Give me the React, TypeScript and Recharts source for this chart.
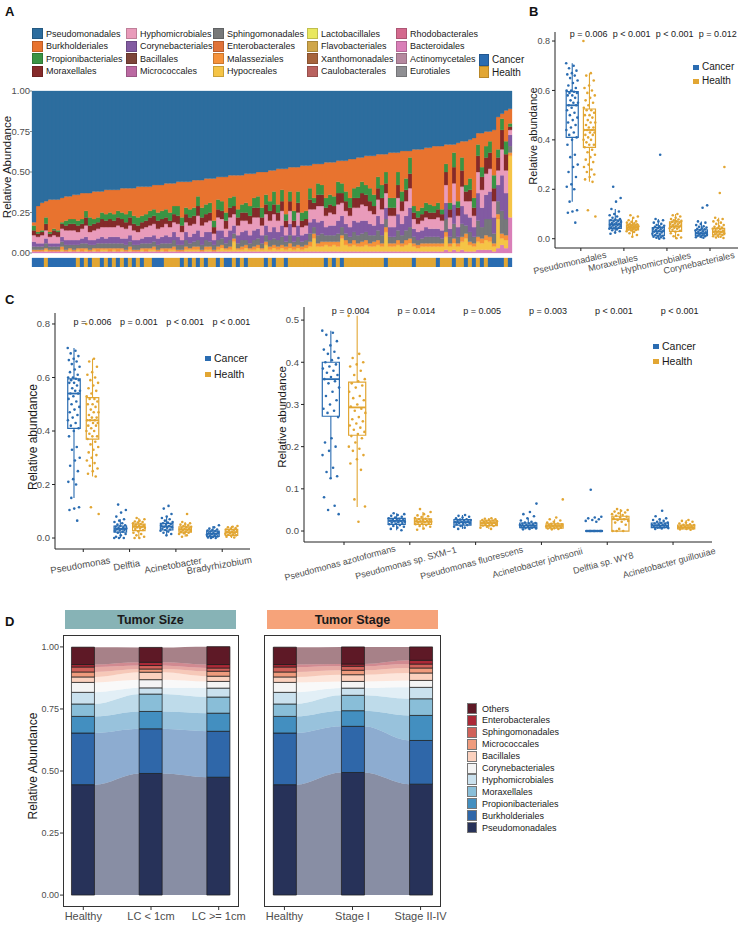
import React from 'react'
import {
  Area,
  AreaChart,
  Bar,
  BarChart,
  Cell,
  ComposedChart,
  ReferenceArea,
  ReferenceDot,
  ReferenceLine,
  Scatter,
  XAxis,
  YAxis,
} from 'recharts'

const FONT = '"Liberation Sans", Arial, Helvetica, sans-serif'
const TXT = '#1a1a1a'
const TICK = '#4d4d4d'
const CANCER = '#2a6cb1'
const HEALTH = '#e2a633'
const groupNames = ['Cancer', 'Health']
const groupColors = [CANCER, HEALTH]

// ---------- Panel A ----------
const orderNames = [
  'Pseudomonadales', 'Burkholderiales', 'Propionibacteriales', 'Moraxellales',
  'Hyphomicrobiales', 'Corynebacteriales', 'Bacillales', 'Micrococcales',
  'Sphingomonadales', 'Enterobacterales', 'Malasseziales', 'Hypocreales',
  'Lactobacillales', 'Flavobacteriales', 'Xanthomonadales', 'Caulobacterales',
  'Rhodobacterales', 'Bacteroidales', 'Actinomycetales', 'Eurotiales',
]
const orderColors = [
  '#2d6d9e', '#e8732f', '#3a9444', '#852a2a',
  '#e99bbb', '#825ba2', '#7c4439', '#bb69a2',
  '#76787a', '#e0733a', '#f6923a', '#f5c446',
  '#e9e85f', '#cfa64a', '#a6643c', '#b9625f',
  '#d4698e', '#d97fb8', '#b5889f', '#8f8f93',
]

// percent per sample, samples sorted by Pseudomonadales
const pseudomonadales = [
  81, 71, 69, 68, 67, 67, 67, 66, 65, 65,
  64, 64, 63, 63, 63, 62, 62, 62, 61, 61,
  61, 61, 60, 60, 60, 60, 59, 59, 59, 59,
  58, 58, 58, 57, 57, 57, 56, 56, 56, 56,
  55, 55, 55, 54, 54, 54, 53, 53, 53, 52,
  52, 52, 52, 51, 51, 51, 50, 50, 50, 49,
  49, 48, 48, 48, 47, 47, 47, 46, 46, 46,
  45, 45, 45, 44, 44, 44, 43, 43, 43, 42,
  42, 41, 41, 40, 40, 40, 39, 39, 39, 38,
  38, 38, 37, 37, 37, 36, 36, 36, 35, 35,
  34, 34, 34, 33, 33, 33, 32, 31, 31, 30,
  29, 26, 26, 25, 25, 24, 16, 14, 12, 11,
]
const burkholderiales = [
  2, 16, 17, 10, 20, 18, 19, 15, 15, 14,
  15, 16, 16, 11, 15, 17, 16, 13, 15, 14,
  15, 13, 15, 16, 14, 17, 19, 18, 17, 15,
  15, 17, 16, 16, 18, 14, 15, 22, 16, 17,
  17, 10, 17, 16, 15, 26, 14, 15, 22, 14,
  13, 21, 18, 18, 20, 15, 15, 22, 14, 19,
  13, 22, 13, 28, 15, 27, 15, 29, 28, 14,
  21, 12, 13, 22, 20, 21, 13, 14, 19, 24,
  18, 18, 15, 18, 20, 24, 14, 19, 11, 28,
  28, 12, 25, 17, 4, 35, 38, 36, 34, 35,
  37, 35, 39, 12, 36, 5, 36, 10, 27, 24,
  37, 7, 21, 9, 6, 28, 20, 3, 19, 9,
]
const propionibacteriales = [
  3, 1, 1, 4, 1, 1, 1, 1, 3, 3,
  3, 3, 3, 4, 5, 3, 3, 4, 4, 4,
  4, 4, 4, 5, 4, 5, 5, 4, 4, 4,
  4, 5, 5, 5, 5, 5, 6, 5, 4, 5,
  5, 6, 6, 6, 6, 4, 6, 6, 5, 6,
  6, 5, 5, 6, 6, 6, 7, 6, 6, 6,
  8, 5, 7, 4, 6, 6, 7, 5, 5, 7,
  3, 7, 6, 6, 6, 6, 7, 6, 6, 6,
  6, 7, 7, 6, 8, 7, 7, 8, 7, 6,
  6, 8, 6, 7, 10, 4, 4, 4, 5, 5,
  4, 4, 3, 5, 4, 9, 4, 8, 4, 7,
  6, 7, 6, 7, 7, 8, 5, 7, 8, 2,
]
const moraxellales = [
  3, 2, 2, 4, 2, 3, 3, 3, 3, 4,
  4, 4, 3, 5, 4, 4, 4, 5, 4, 5,
  4, 5, 5, 4, 5, 4, 4, 4, 4, 5,
  5, 5, 5, 4, 4, 5, 5, 4, 5, 5,
  5, 6, 5, 5, 5, 4, 5, 5, 5, 6,
  5, 5, 5, 5, 5, 6, 6, 5, 6, 6,
  6, 5, 6, 4, 6, 4, 6, 4, 4, 6,
  4, 7, 7, 5, 5, 5, 7, 6, 6, 5,
  6, 6, 7, 7, 6, 5, 7, 7, 6, 5,
  5, 8, 6, 7, 9, 4, 4, 4, 4, 4,
  4, 5, 4, 8, 5, 10, 5, 10, 6, 7,
  5, 10, 8, 10, 10, 8, 8, 12, 10, 2,
]
const hyphomicrobiales = [
  4, 4, 5, 5, 4, 5, 4, 5, 6, 6,
  6, 5, 6, 7, 5, 6, 6, 6, 7, 6,
  6, 7, 7, 6, 6, 6, 5, 6, 6, 7,
  7, 6, 6, 7, 6, 6, 8, 5, 6, 7,
  6, 9, 7, 6, 7, 4, 8, 7, 5, 8,
  7, 6, 7, 6, 7, 8, 7, 6, 7, 7,
  8, 7, 9, 5, 8, 5, 8, 5, 5, 8,
  6, 10, 9, 7, 8, 7, 10, 8, 8, 7,
  8, 9, 10, 9, 8, 7, 10, 9, 9, 7,
  7, 10, 8, 9, 12, 6, 5, 6, 6, 6,
  6, 7, 6, 11, 7, 13, 7, 12, 8, 10,
  7, 13, 11, 13, 14, 10, 9, 16, 14, 3,
]
const corynebacteriales = [
  3, 2, 2, 3, 2, 2, 2, 3, 3, 3,
  3, 3, 3, 4, 3, 3, 3, 4, 3, 4,
  4, 4, 3, 4, 4, 3, 3, 3, 4, 4,
  4, 4, 4, 5, 4, 5, 5, 3, 5, 4,
  5, 6, 5, 5, 6, 3, 6, 5, 4, 6,
  5, 5, 5, 6, 5, 6, 6, 5, 6, 5,
  7, 5, 7, 4, 7, 4, 7, 4, 4, 7,
  5, 8, 8, 5, 6, 6, 8, 7, 6, 6,
  7, 8, 8, 7, 7, 6, 9, 7, 7, 6,
  6, 10, 7, 9, 12, 5, 5, 5, 6, 5,
  5, 5, 5, 10, 5, 12, 6, 11, 7, 9,
  6, 17, 12, 15, 17, 10, 10, 22, 16, 7,
]
const sphingomonadales = [
  2, 2, 2, 3, 2, 2, 2, 3, 3, 2,
  3, 2, 3, 3, 3, 2, 3, 3, 3, 3,
  3, 3, 3, 3, 3, 3, 3, 3, 3, 3,
  3, 3, 3, 3, 3, 4, 3, 3, 4, 3,
  3, 4, 3, 4, 3, 3, 4, 4, 3, 4,
  3, 3, 4, 3, 3, 4, 4, 3, 4, 4,
  4, 4, 5, 3, 5, 3, 5, 3, 3, 5,
  4, 5, 5, 4, 4, 4, 5, 5, 4, 4,
  5, 5, 5, 5, 5, 4, 6, 5, 5, 4,
  4, 6, 5, 6, 7, 4, 3, 3, 4, 4,
  4, 4, 3, 8, 4, 9, 4, 8, 5, 6,
  4, 10, 7, 10, 11, 6, 8, 14, 10, 4,
]
const malasseziales = [
  1, 1, 1, 1, 1, 1, 1, 2, 1, 1,
  1, 1, 2, 1, 1, 1, 2, 1, 1, 2,
  1, 2, 1, 1, 2, 1, 1, 1, 2, 1,
  2, 1, 1, 2, 1, 2, 1, 1, 2, 1,
  2, 2, 1, 2, 2, 1, 2, 2, 1, 2,
  2, 1, 2, 2, 1, 2, 2, 1, 2, 2,
  2, 2, 2, 2, 3, 2, 2, 2, 2, 3,
  3, 2, 3, 2, 3, 2, 3, 2, 3, 2,
  3, 2, 3, 3, 2, 3, 3, 2, 3, 2,
  2, 3, 2, 3, 3, 2, 2, 2, 2, 2,
  2, 2, 2, 3, 2, 3, 2, 3, 3, 2,
  2, 3, 3, 3, 3, 2, 3, 3, 3, 2,
]
const hypocreales = [
  0, 0, 0, 1, 0, 0, 0, 1, 0, 1,
  0, 1, 0, 1, 0, 1, 0, 1, 1, 0,
  1, 0, 1, 0, 1, 0, 0, 1, 0, 1,
  1, 0, 1, 0, 1, 1, 0, 0, 1, 1,
  1, 1, 0, 1, 1, 0, 1, 2, 1, 1,
  6, 1, 1, 2, 1, 1, 2, 1, 4, 1,
  2, 1, 2, 1, 2, 1, 2, 1, 2, 3,
  8, 3, 3, 4, 3, 4, 3, 8, 4, 3,
  4, 3, 3, 4, 3, 3, 4, 3, 12, 3,
  3, 4, 3, 4, 5, 3, 2, 3, 3, 3,
  3, 3, 3, 8, 3, 4, 3, 5, 8, 4,
  3, 5, 4, 6, 5, 3, 18, 4, 5, 38,
]
const bacteroidales = [
  1, 1, 1, 1, 1, 1, 1, 1, 1, 1,
  1, 1, 1, 1, 1, 1, 1, 1, 1, 1,
  1, 1, 1, 1, 1, 1, 1, 1, 1, 1,
  1, 1, 1, 1, 1, 1, 1, 1, 1, 1,
  1, 1, 1, 1, 1, 1, 1, 1, 1, 1,
  1, 1, 1, 1, 1, 1, 1, 1, 1, 1,
  1, 1, 1, 1, 1, 1, 1, 1, 1, 1,
  1, 1, 1, 1, 1, 1, 1, 1, 1, 1,
  1, 1, 1, 1, 1, 1, 1, 1, 1, 1,
  1, 1, 1, 1, 1, 1, 1, 1, 1, 1,
  1, 1, 1, 2, 1, 2, 1, 2, 1, 1,
  1, 2, 2, 2, 2, 1, 3, 5, 3, 22,
]
// C = Cancer, H = Health
const sampleGroup = (
  'CCCHCCCCCCC' + 'HCHCHH' + 'CHCHCHCHCHC' + 'HHCCCHHHH' + 'CHCHCHC' +
  'HHCHCCHCHC' + 'HHHHCHCHHC' + 'HHHHHHHHH' + 'CHCHC' + 'HHHHHHHHHH' +
  'CHHHHHHCHHHHHCHHHCHH' + 'CHCHCHCCCCHC'
).split('')

const aStack: [string, number[]][] = [
  ['Bacteroidales', bacteroidales],
  ['Hypocreales', hypocreales],
  ['Malasseziales', malasseziales],
  ['Sphingomonadales', sphingomonadales],
  ['Corynebacteriales', corynebacteriales],
  ['Hyphomicrobiales', hyphomicrobiales],
  ['Moraxellales', moraxellales],
  ['Propionibacteriales', propionibacteriales],
  ['Burkholderiales', burkholderiales],
  ['Pseudomonadales', pseudomonadales],
]
const aRows = sampleGroup.map((g, i) => {
  const row: Record<string, number | string> = { id: i, group: g }
  aStack.forEach(([name, vals]) => { row[name] = vals[i] })
  return row
})
const colorOf = (name: string) => orderColors[orderNames.indexOf(name)]

// ---------- Panel B ----------
const bCategories = ['Pseudomonadales', 'Moraxellales', 'Hyphomicrobiales', 'Corynebacteriales']
const bPValues = ['p = 0.006', 'p < 0.001', 'p < 0.001', 'p = 0.012']
// [lower whisker, Q1, median, Q3, upper whisker]
const bCancerBox = [[0.15, 0.41, 0.54, 0.595, 0.71], [0.02, 0.042, 0.058, 0.075, 0.12], [0, 0.012, 0.03, 0.045, 0.08], [0.002, 0.012, 0.022, 0.036, 0.07]]
const bHealthBox = [[0.23, 0.37, 0.44, 0.525, 0.67], [0.01, 0.036, 0.046, 0.056, 0.085], [0, 0.03, 0.05, 0.068, 0.1], [0.003, 0.016, 0.028, 0.042, 0.085]]
const pseudoCancer = [0.71, 0.7, 0.69, 0.68, 0.67, 0.665, 0.66, 0.65, 0.64, 0.63, 0.62, 0.61, 0.6, 0.6, 0.595, 0.59, 0.59, 0.58, 0.58, 0.57, 0.56, 0.55, 0.55, 0.54, 0.54, 0.53, 0.52, 0.51, 0.5, 0.49, 0.48, 0.47, 0.46, 0.45, 0.44, 0.43, 0.42, 0.41, 0.4, 0.38, 0.34, 0.33, 0.3, 0.29, 0.27, 0.25, 0.22, 0.21, 0.2, 0.15, 0.115, 0.11, 0.105, 0.065]
const pseudoHealth = [0.8, 0.67, 0.66, 0.64, 0.62, 0.61, 0.6, 0.59, 0.58, 0.57, 0.56, 0.55, 0.54, 0.53, 0.52, 0.52, 0.51, 0.5, 0.5, 0.49, 0.48, 0.47, 0.47, 0.46, 0.45, 0.45, 0.44, 0.44, 0.44, 0.43, 0.43, 0.42, 0.42, 0.41, 0.4, 0.4, 0.39, 0.38, 0.38, 0.37, 0.36, 0.35, 0.34, 0.33, 0.32, 0.31, 0.3, 0.29, 0.28, 0.27, 0.26, 0.25, 0.24, 0.23, 0.115, 0.09]
const moraxCancer = [0.21, 0.165, 0.15, 0.12, 0.11, 0.1, 0.095, 0.09, 0.085, 0.08, 0.078, 0.075, 0.072, 0.07, 0.068, 0.065, 0.063, 0.06, 0.058, 0.056, 0.055, 0.053, 0.05, 0.048, 0.046, 0.044, 0.042, 0.04, 0.037, 0.034, 0.03, 0.025, 0.02]
const moraxHealth = [0.095, 0.09, 0.085, 0.075, 0.07, 0.068, 0.065, 0.062, 0.06, 0.058, 0.056, 0.055, 0.053, 0.052, 0.05, 0.049, 0.048, 0.046, 0.045, 0.044, 0.043, 0.042, 0.04, 0.039, 0.037, 0.035, 0.033, 0.03, 0.027, 0.022, 0.015, 0.008]
const hyphoCancer = [0.34, 0.08, 0.075, 0.07, 0.065, 0.06, 0.055, 0.052, 0.05, 0.048, 0.045, 0.042, 0.04, 0.038, 0.035, 0.033, 0.03, 0.028, 0.025, 0.022, 0.02, 0.018, 0.015, 0.012, 0.01, 0.008, 0.006, 0.004, 0.002, 0]
const hyphoHealth = [0.1, 0.095, 0.09, 0.085, 0.08, 0.078, 0.075, 0.072, 0.07, 0.068, 0.065, 0.062, 0.06, 0.058, 0.055, 0.053, 0.05, 0.048, 0.046, 0.044, 0.042, 0.04, 0.036, 0.032, 0.028, 0.022, 0.015, 0.01, 0.005, 0.002]
const coryneCancer = [0.135, 0.125, 0.07, 0.065, 0.06, 0.055, 0.05, 0.048, 0.045, 0.042, 0.04, 0.038, 0.035, 0.033, 0.03, 0.028, 0.026, 0.024, 0.022, 0.02, 0.018, 0.016, 0.014, 0.012, 0.01, 0.008, 0.006, 0.004]
const coryneHealth = [0.29, 0.185, 0.085, 0.08, 0.075, 0.07, 0.065, 0.06, 0.055, 0.05, 0.048, 0.045, 0.042, 0.04, 0.038, 0.035, 0.033, 0.03, 0.028, 0.026, 0.024, 0.022, 0.02, 0.018, 0.015, 0.012, 0.01, 0.008, 0.005, 0.003]

// ---------- Panel C (genus) ----------
const cGenera = ['Pseudomonas', 'Delftia', 'Acinetobacter', 'Bradyrhizobium']
const cGenusP = ['p = 0.006', 'p = 0.001', 'p < 0.001', 'p < 0.001']
const cGenusCancerBox = [[0.15, 0.41, 0.54, 0.595, 0.71], [0, 0.022, 0.034, 0.045, 0.07], [0.01, 0.03, 0.043, 0.055, 0.08], [0, 0.006, 0.016, 0.026, 0.045]]
const cGenusHealthBox = [[0.23, 0.37, 0.44, 0.525, 0.67], [0, 0.028, 0.042, 0.052, 0.075], [0.005, 0.022, 0.032, 0.042, 0.06], [0, 0.01, 0.022, 0.032, 0.045]]
const delftiaCancer = [0.125, 0.105, 0.095, 0.08, 0.07, 0.065, 0.06, 0.055, 0.05, 0.048, 0.045, 0.042, 0.04, 0.038, 0.036, 0.034, 0.032, 0.03, 0.028, 0.026, 0.024, 0.02, 0.015, 0.01, 0.005, 0, 0, 0]
const delftiaHealth = [0.075, 0.07, 0.065, 0.062, 0.06, 0.058, 0.055, 0.052, 0.05, 0.048, 0.046, 0.044, 0.042, 0.04, 0.038, 0.036, 0.034, 0.03, 0.025, 0.02, 0.015, 0.01, 0.005, 0, 0]
const acinetoCancer = [0.12, 0.11, 0.09, 0.08, 0.075, 0.07, 0.065, 0.06, 0.058, 0.055, 0.052, 0.05, 0.048, 0.045, 0.042, 0.04, 0.038, 0.035, 0.032, 0.03, 0.027, 0.024, 0.02, 0.015, 0.01]
const acinetoHealth = [0.09, 0.06, 0.055, 0.052, 0.05, 0.048, 0.045, 0.042, 0.04, 0.038, 0.036, 0.034, 0.032, 0.03, 0.028, 0.026, 0.024, 0.022, 0.02, 0.018, 0.015, 0.01, 0.005]
const bradyCancer = [0.048, 0.04, 0.035, 0.032, 0.03, 0.028, 0.026, 0.024, 0.022, 0.02, 0.018, 0.016, 0.014, 0.012, 0.01, 0.008, 0.006, 0.004, 0.002, 0, 0]
const bradyHealth = [0.045, 0.042, 0.04, 0.037, 0.035, 0.032, 0.03, 0.028, 0.026, 0.024, 0.022, 0.02, 0.018, 0.016, 0.014, 0.012, 0.01, 0.008, 0.005, 0.002]

// ---------- Panel C (species) ----------
const cSpecies = ['Pseudomonas azotoformans', 'Pseudomonas sp. SXM\u22121', 'Pseudomonas fluorescens', 'Acinetobacter johnsonii', 'Delftia sp. WY8', 'Acinetobacter guillouiae']
const cSpeciesP = ['p = 0.004', 'p = 0.014', 'p = 0.005', 'p = 0.003', 'p < 0.001', 'p < 0.001']
const cSpeciesCancerBox = [[0.125, 0.272, 0.36, 0.4, 0.475], [0.002, 0.016, 0.024, 0.03, 0.042], [0.005, 0.014, 0.021, 0.027, 0.038], [0.004, 0.008, 0.013, 0.019, 0.03], [0, 0, 0, 0, 0], [0.005, 0.008, 0.013, 0.019, 0.03]]
const cSpeciesHealthBox = [[0.057, 0.227, 0.293, 0.353, 0.51], [0.003, 0.016, 0.022, 0.029, 0.045], [0.005, 0.013, 0.019, 0.024, 0.03], [0.004, 0.007, 0.012, 0.017, 0.028], [0, 0, 0.028, 0.035, 0.052], [0.003, 0.005, 0.009, 0.014, 0.026]]
const azotoCancer = [0.475, 0.47, 0.465, 0.45, 0.44, 0.43, 0.425, 0.42, 0.41, 0.405, 0.4, 0.395, 0.39, 0.385, 0.38, 0.375, 0.37, 0.365, 0.36, 0.355, 0.35, 0.34, 0.33, 0.32, 0.31, 0.3, 0.29, 0.285, 0.28, 0.27, 0.22, 0.21, 0.2, 0.19, 0.18, 0.15, 0.14, 0.13, 0.125, 0.08, 0.06, 0.05, 0.04]
const azotoHealth = [0.51, 0.42, 0.41, 0.4, 0.395, 0.39, 0.38, 0.37, 0.36, 0.355, 0.35, 0.345, 0.34, 0.33, 0.32, 0.315, 0.31, 0.3, 0.295, 0.29, 0.285, 0.28, 0.27, 0.265, 0.26, 0.255, 0.25, 0.245, 0.24, 0.235, 0.23, 0.225, 0.22, 0.21, 0.2, 0.195, 0.19, 0.18, 0.17, 0.16, 0.145, 0.075, 0.058, 0.022]
const sxmCancer = [0.042, 0.04, 0.038, 0.036, 0.034, 0.032, 0.03, 0.029, 0.028, 0.027, 0.026, 0.025, 0.024, 0.023, 0.022, 0.021, 0.02, 0.019, 0.018, 0.016, 0.014, 0.012, 0.01, 0.008, 0.005, 0.002]
const sxmHealth = [0.052, 0.045, 0.04, 0.037, 0.035, 0.033, 0.031, 0.029, 0.028, 0.027, 0.026, 0.025, 0.024, 0.023, 0.022, 0.021, 0.02, 0.019, 0.018, 0.016, 0.014, 0.012, 0.01, 0.006, 0.003]
const fluorCancer = [0.038, 0.036, 0.034, 0.032, 0.03, 0.028, 0.027, 0.026, 0.025, 0.024, 0.023, 0.022, 0.021, 0.02, 0.019, 0.018, 0.017, 0.016, 0.014, 0.012, 0.01, 0.008, 0.005]
const fluorHealth = [0.03, 0.029, 0.028, 0.027, 0.026, 0.025, 0.024, 0.023, 0.022, 0.021, 0.02, 0.019, 0.018, 0.017, 0.016, 0.015, 0.014, 0.013, 0.012, 0.01, 0.008, 0.005]
const johnCancer = [0.065, 0.045, 0.04, 0.035, 0.03, 0.025, 0.022, 0.02, 0.019, 0.018, 0.017, 0.016, 0.015, 0.014, 0.013, 0.012, 0.011, 0.01, 0.009, 0.008, 0.007, 0.006, 0.005, 0.004]
const johnHealth = [0.075, 0.032, 0.028, 0.025, 0.022, 0.02, 0.018, 0.017, 0.016, 0.015, 0.014, 0.013, 0.012, 0.011, 0.01, 0.009, 0.008, 0.007, 0.006, 0.005, 0.004]
const wy8Cancer = [0.098, 0.034, 0.032, 0.03, 0.028, 0.026, 0.024, 0.022, 0, 0, 0, 0, 0, 0, 0, 0, 0, 0, 0, 0, 0, 0, 0, 0]
const wy8Health = [0.052, 0.05, 0.048, 0.046, 0.044, 0.042, 0.04, 0.038, 0.036, 0.034, 0.032, 0.03, 0.028, 0.026, 0.024, 0.022, 0.02, 0.015, 0.005, 0, 0, 0]
const guillCancer = [0.048, 0.035, 0.03, 0.028, 0.026, 0.024, 0.022, 0.02, 0.019, 0.018, 0.017, 0.016, 0.015, 0.014, 0.013, 0.012, 0.011, 0.01, 0.009, 0.008, 0.007, 0.006, 0.005]
const guillHealth = [0.026, 0.024, 0.022, 0.02, 0.018, 0.016, 0.015, 0.014, 0.013, 0.012, 0.011, 0.01, 0.009, 0.008, 0.007, 0.006, 0.005, 0.004, 0.003]

// ---------- Panel D ----------
const dOrders = ['Pseudomonadales', 'Burkholderiales', 'Propionibacteriales', 'Moraxellales', 'Hyphomicrobiales', 'Corynebacteriales', 'Bacillales', 'Micrococcales', 'Sphingomonadales', 'Enterobacterales', 'Others']
const dColors = ['#273259', '#2f67a9', '#438fc0', '#89bed8', '#cae1ee', '#f4f4f4', '#fbd1be', '#ef9b7d', '#d1625a', '#ab2937', '#5e1926']
const sizeGroups = ['Healthy', 'LC < 1cm', 'LC >= 1cm']
const sizeHealthy = [0.445, 0.208, 0.067, 0.05, 0.047, 0.04, 0.022, 0.02, 0.02, 0.01, 0.07]
const sizeBelow1 = [0.49, 0.18, 0.07, 0.07, 0.025, 0.033, 0.03, 0.013, 0.014, 0.013, 0.06]
const sizeAbove1 = [0.475, 0.185, 0.073, 0.065, 0.036, 0.027, 0.021, 0.02, 0.013, 0.014, 0.072]
const stageGroups = ['Healthy', 'Stage I', 'Stage II-IV']
const stageHealthy = [0.445, 0.208, 0.067, 0.05, 0.047, 0.04, 0.022, 0.02, 0.02, 0.01, 0.07]
const stageI = [0.494, 0.186, 0.063, 0.062, 0.029, 0.027, 0.027, 0.018, 0.016, 0.009, 0.069]
const stageLate = [0.447, 0.176, 0.101, 0.067, 0.046, 0.028, 0.03, 0.02, 0.016, 0.015, 0.054]

// ---------- helpers ----------
const jitter = (i: number, half: number) => (((i * 0.6180339887) % 1) - 0.5) * 2 * half

function VTitle({ x, y, text, size }: { x: number; y: number; text: string; size: number }) {
  return (
    <div style={{ position: 'absolute', left: x, top: y, transform: 'translate(-50%, -50%) rotate(-90deg)', fontSize: size, color: TXT, whiteSpace: 'nowrap' }}>
      {text}
    </div>
  )
}

function Letter({ x, y, text }: { x: number; y: number; text: string }) {
  return <div style={{ position: 'absolute', left: x, top: y, fontSize: 13, fontWeight: 700, color: '#111' }}>{text}</div>
}

function GroupLegend({ left, top, gap, size }: { left: number; top: number; gap: number; size: number }) {
  return (
    <>
      {groupNames.map((g, i) => (
        <div key={g} style={{ position: 'absolute', left, top: top + i * gap, display: 'flex', alignItems: 'center', fontSize: size, color: TXT, lineHeight: 1, whiteSpace: 'nowrap' }}>
          <span style={{ display: 'inline-block', width: 6, height: 5, background: groupColors[i], marginRight: 3 }} />
          {g}
        </div>
      ))}
    </>
  )
}

function slantTick(names: string[], angle: number, dx: number, dy: number, size: number) {
  return (props: any) => {
    const { x, y, payload } = props
    const name = names[Math.round(payload.value) - 1]
    if (!name) return <g />
    return (
      <g transform={`translate(${x + dx},${y + dy}) rotate(${angle})`}>
        <text textAnchor="middle" dominantBaseline="central" fontSize={size} fill={TICK}>{name}</text>
      </g>
    )
  }
}

type BoxPanelProps = {
  left: number
  top: number
  width: number
  height: number
  margin: { top: number; right: number; bottom: number; left: number }
  yAxisWidth: number
  xAxisHeight: number
  categories: string[]
  pValues: string[]
  cancerPoints: number[][]
  healthPoints: number[][]
  cancerBox: number[][]
  healthBox: number[][]
  xDomain: [number, number]
  yDomain: [number, number]
  yTicks: number[]
  pY: number
  pDx: number
  boxHalf: number
  angle: number
  labelDx: number
  labelDy: number
  labelSize: number
  tickSize: number
}

function BoxPanel(p: BoxPanelProps) {
  const series = [
    { name: 'Cancer', color: CANCER, pts: p.cancerPoints, box: p.cancerBox, shift: -0.2 },
    { name: 'Health', color: HEALTH, pts: p.healthPoints, box: p.healthBox, shift: 0.2 },
  ]
  return (
    <div style={{ position: 'absolute', left: p.left, top: p.top }}>
      <ComposedChart width={p.width} height={p.height} margin={p.margin}>
        <XAxis
          type="number"
          dataKey="x"
          domain={p.xDomain}
          allowDataOverflow
          ticks={p.categories.map((_, i) => i + 1)}
          interval={0}
          height={p.xAxisHeight}
          tickSize={3}
          axisLine={{ stroke: '#222' }}
          tickLine={{ stroke: '#222' }}
          tick={slantTick(p.categories, p.angle, p.labelDx, p.labelDy, p.labelSize)}
        />
        <YAxis
          type="number"
          dataKey="y"
          domain={p.yDomain}
          allowDataOverflow
          ticks={p.yTicks}
          interval={0}
          width={p.yAxisWidth}
          tickSize={3}
          tickMargin={2}
          tickFormatter={(v: number) => v.toFixed(1)}
          axisLine={{ stroke: '#222' }}
          tickLine={{ stroke: '#222' }}
          tick={{ fontSize: p.tickSize, fill: TICK }}
        />
        {series.flatMap((s) =>
          s.box.map((b, i) => {
            const cx = i + 1 + s.shift
            return (
              <React.Fragment key={`${s.name}-box-${i}`}>
                <ReferenceLine segment={[{ x: cx, y: b[0] }, { x: cx, y: b[1] }]} stroke={s.color} strokeWidth={1.1} />
                <ReferenceLine segment={[{ x: cx, y: b[3] }, { x: cx, y: b[4] }]} stroke={s.color} strokeWidth={1.1} />
                <ReferenceArea x1={cx - p.boxHalf} x2={cx + p.boxHalf} y1={b[1]} y2={b[3]} fill="#ffffff" fillOpacity={0} stroke={s.color} strokeWidth={1.2} strokeOpacity={1} />
                <ReferenceLine segment={[{ x: cx - p.boxHalf, y: b[2] }, { x: cx + p.boxHalf, y: b[2] }]} stroke={s.color} strokeWidth={1.8} />
              </React.Fragment>
            )
          }),
        )}
        {series.map((s) => (
          <Scatter
            key={s.name}
            name={s.name}
            isAnimationActive={false}
            data={s.pts.flatMap((vals, ci) => vals.map((v, j) => ({ x: ci + 1 + s.shift + jitter(j + ci * 7, p.boxHalf), y: v })))}
            shape={(props: any) => <circle cx={props.cx} cy={props.cy} r={1.3} fill={s.color} />}
          />
        ))}
        {p.pValues.map((t, i) => (
          <ReferenceDot
            key={`p-${i}`}
            x={i + 1 + p.pDx}
            y={p.pY}
            r={0}
            fill="none"
            stroke="none"
            label={{ value: t, position: 'center', fontSize: 9, fill: TXT }}
          />
        ))}
      </ComposedChart>
    </div>
  )
}

const BAR_HALF = 0.17
const D_X_DOMAIN: [number, number] = [0.7, 3.3]
const D_Y_DOMAIN: [number, number] = [-0.048, 1.048]

function AlluvialPanel({ left, width, marginLeft, marginRight, groups, values, showY }: {
  left: number
  width: number
  marginLeft: number
  marginRight: number
  groups: string[]
  values: number[][]
  showY: boolean
}) {
  const barRows = values.map((vals, gi) => {
    const row: Record<string, number> = { x: gi + 1 }
    dOrders.forEach((o, oi) => { row[o] = vals[oi] })
    return row
  })
  const flowRows = barRows.flatMap((r) => [{ ...r, x: r.x - BAR_HALF }, { ...r, x: r.x + BAR_HALF }])
  const margin = { top: 10, right: marginRight, bottom: 0, left: marginLeft }
  return (
    <>
      <div style={{ position: 'absolute', left, top: 625 }}>
        <AreaChart width={width} height={300} data={flowRows} margin={margin}>
          <XAxis type="number" dataKey="x" domain={D_X_DOMAIN} allowDataOverflow height={18} tick={false} axisLine={false} tickLine={false} />
          <YAxis type="number" domain={D_Y_DOMAIN} allowDataOverflow width={26} hide={!showY} tick={false} axisLine={false} tickLine={false} />
          {dOrders.map((o, oi) => (
            <Area key={o} dataKey={o} stackId="f" type="monotoneX" fill={dColors[oi]} fillOpacity={0.55} stroke="none" isAnimationActive={false} />
          ))}
        </AreaChart>
      </div>
      <div style={{ position: 'absolute', left, top: 625 }}>
        <BarChart width={width} height={300} data={barRows} margin={margin}>
          <XAxis
            type="number"
            dataKey="x"
            domain={D_X_DOMAIN}
            allowDataOverflow
            ticks={[1, 2, 3]}
            interval={0}
            height={18}
            tickSize={3}
            axisLine={false}
            tickLine={{ stroke: '#333' }}
            tickFormatter={(v: number) => groups[Math.round(v) - 1]}
            tick={{ fontSize: 11, fill: TICK }}
          />
          <YAxis
            type="number"
            domain={D_Y_DOMAIN}
            allowDataOverflow
            ticks={[0, 0.25, 0.5, 0.75, 1]}
            interval={0}
            width={26}
            hide={!showY}
            tickSize={3}
            tickMargin={1}
            axisLine={false}
            tickLine={{ stroke: '#333' }}
            tickFormatter={(v: number) => v.toFixed(2)}
            tick={{ fontSize: 9, fill: TICK }}
          />
          {dOrders.map((o, oi) => (
            <Bar key={o} dataKey={o} stackId="b" barSize={23} fill={dColors[oi]} stroke="#1c1c1c" strokeWidth={0.7} isAnimationActive={false} />
          ))}
        </BarChart>
      </div>
    </>
  )
}

export default function App() {
  return (
    <div style={{ position: 'absolute', left: 0, top: 0, width: 740, height: 926, background: '#fff', fontFamily: FONT, overflow: 'hidden' }}>
      {/* Panel A */}
      <Letter x={5} y={4} text="A" />
      {orderNames.map((name, i) => {
        const cols = [32, 126, 213, 307, 396]
        return (
          <div key={name} style={{ position: 'absolute', left: cols[Math.floor(i / 4)], top: 28 + (i % 4) * 12.5, height: 11, display: 'flex', alignItems: 'center', fontSize: 9, color: TXT, whiteSpace: 'nowrap' }}>
            <span style={{ display: 'inline-block', width: 11, height: 11, boxSizing: 'border-box', background: orderColors[i], border: '1px solid rgba(0,0,0,0.18)', marginRight: 3 }} />
            {name}
          </div>
        )
      })}
      {groupNames.map((g, i) => (
        <div key={g} style={{ position: 'absolute', left: 479, top: 53.5 + i * 12.5, height: 12, display: 'flex', alignItems: 'center', fontSize: 10, color: TXT, whiteSpace: 'nowrap' }}>
          <span style={{ display: 'inline-block', width: 10, height: 12, boxSizing: 'border-box', background: groupColors[i], border: '1px solid rgba(0,0,0,0.18)', marginRight: 3 }} />
          {g}
        </div>
      ))}
      <VTitle x={7} y={167} text="Relative Abundance" size={11.5} />
      <div style={{ position: 'absolute', left: 0, top: 80 }}>
        <BarChart width={520} height={180} data={aRows} stackOffset="expand" barCategoryGap={0} barGap={0} margin={{ top: 11, right: 8, bottom: 7, left: 0 }}>
          <XAxis dataKey="id" hide />
          <YAxis
            domain={[0, 1]}
            ticks={[0, 0.25, 0.5, 0.75, 1]}
            interval={0}
            width={32}
            tickSize={2}
            tickMargin={0}
            axisLine={false}
            tickLine={{ stroke: '#888' }}
            tickFormatter={(v: number) => v.toFixed(2)}
            tick={{ fontSize: 9.5, fill: TICK }}
          />
          {aStack.map(([name]) => (
            <Bar key={name} dataKey={name} stackId="a" fill={colorOf(name)} stroke={colorOf(name)} strokeWidth={0.3} isAnimationActive={false} />
          ))}
        </BarChart>
      </div>
      <div style={{ position: 'absolute', left: 0, top: 257 }}>
        <BarChart width={520} height={10} data={aRows} barCategoryGap={0} margin={{ top: 1, right: 8, bottom: 0, left: 32 }}>
          <XAxis dataKey="id" hide />
          <YAxis domain={[0, 1]} hide />
          <Bar dataKey={() => 1} isAnimationActive={false}>
            {aRows.map((r, i) => (
              <Cell key={i} fill={r.group === 'C' ? CANCER : HEALTH} stroke={r.group === 'C' ? CANCER : HEALTH} strokeWidth={0.3} />
            ))}
          </Bar>
        </BarChart>
      </div>

      {/* Panel B */}
      <Letter x={529} y={4} text="B" />
      <VTitle x={533} y={136} text="Relative abundance" size={11} />
      <BoxPanel
        left={515}
        top={0}
        width={225}
        height={280}
        margin={{ top: 32, right: 2, bottom: 0, left: 0 }}
        yAxisWidth={40}
        xAxisHeight={32}
        categories={bCategories}
        pValues={bPValues}
        cancerPoints={[pseudoCancer, moraxCancer, hyphoCancer, coryneCancer]}
        healthPoints={[pseudoHealth, moraxHealth, hyphoHealth, coryneHealth]}
        cancerBox={bCancerBox}
        healthBox={bHealthBox}
        xDomain={[0.4, 4.65]}
        yDomain={[-0.0376, 0.8365]}
        yTicks={[0, 0.2, 0.4, 0.6, 0.8]}
        pY={0.828}
        pDx={0.18}
        boxHalf={0.14}
        angle={-13}
        labelDx={-11}
        labelDy={10}
        labelSize={9}
        tickSize={9}
      />
      <GroupLegend left={693} top={62} gap={14} size={10} />

      {/* Panel C */}
      <Letter x={5} y={292} text="C" />
      <VTitle x={33} y={437} text="Relative abundance" size={12} />
      <BoxPanel
        left={0}
        top={290}
        width={252}
        height={300}
        margin={{ top: 23, right: 2, bottom: 0, left: 15 }}
        yAxisWidth={40}
        xAxisHeight={41}
        categories={cGenera}
        pValues={cGenusP}
        cancerPoints={[pseudoCancer, delftiaCancer, acinetoCancer, bradyCancer]}
        healthPoints={[pseudoHealth, delftiaHealth, acinetoHealth, bradyHealth]}
        cancerBox={cGenusCancerBox}
        healthBox={cGenusHealthBox}
        xDomain={[0.39, 4.6]}
        yDomain={[-0.041, 0.841]}
        yTicks={[0, 0.2, 0.4, 0.6, 0.8]}
        pY={0.807}
        pDx={0.2}
        boxHalf={0.135}
        angle={-10}
        labelDx={-3}
        labelDy={11}
        labelSize={9.5}
        tickSize={9.5}
      />
      <GroupLegend left={205} top={353} gap={16} size={10.5} />

      <VTitle x={282} y={417} text="Relative abundance" size={11.5} />
      <BoxPanel
        left={262}
        top={290}
        width={478}
        height={300}
        margin={{ top: 17, right: 28, bottom: 0, left: 2 }}
        yAxisWidth={40}
        xAxisHeight={48}
        categories={cSpecies}
        pValues={cSpeciesP}
        cancerPoints={[azotoCancer, sxmCancer, fluorCancer, johnCancer, wy8Cancer, guillCancer]}
        healthPoints={[azotoHealth, sxmHealth, fluorHealth, johnHealth, wy8Health, guillHealth]}
        cancerBox={cSpeciesCancerBox}
        healthBox={cSpeciesHealthBox}
        xDomain={[0.392, 6.592]}
        yDomain={[-0.026, 0.531]}
        yTicks={[0, 0.1, 0.2, 0.3, 0.4, 0.5]}
        pY={0.521}
        pDx={0.1}
        boxHalf={0.13}
        angle={-15}
        labelDx={-4}
        labelDy={16}
        labelSize={9}
        tickSize={9.5}
      />
      <GroupLegend left={653} top={341} gap={15} size={10.5} />

      {/* Panel D */}
      <Letter x={5} y={614} text="D" />
      <VTitle x={33} y={766} text="Relative Abundance" size={12} />
      <div style={{ position: 'absolute', left: 65, top: 610, width: 171, height: 19, background: '#87b3b6', fontSize: 12.5, fontWeight: 700, color: TXT, display: 'flex', alignItems: 'center', justifyContent: 'center' }}>Tumor Size</div>
      <div style={{ position: 'absolute', left: 267, top: 610, width: 171, height: 19, background: '#f6a37a', fontSize: 12.5, fontWeight: 700, color: TXT, display: 'flex', alignItems: 'center', justifyContent: 'center' }}>Tumor Stage</div>
      <AlluvialPanel left={30} width={226} marginLeft={7} marginRight={17} groups={sizeGroups} values={[sizeHealthy, sizeBelow1, sizeAbove1]} showY />
      <AlluvialPanel left={255} width={206} marginLeft={9} marginRight={20} groups={stageGroups} values={[stageHealthy, stageI, stageLate]} showY={false} />
      <div style={{ position: 'absolute', left: 63, top: 635, width: 176, height: 272, boxSizing: 'border-box', border: '1px solid #333' }} />
      <div style={{ position: 'absolute', left: 264, top: 635, width: 177, height: 272, boxSizing: 'border-box', border: '1px solid #333' }} />
      {[...dOrders].reverse().map((o, i) => (
        <div key={o} style={{ position: 'absolute', left: 467, top: 703 + i * 11.9, height: 11, display: 'flex', alignItems: 'center', fontSize: 9, color: TXT, whiteSpace: 'nowrap' }}>
          <span style={{ display: 'inline-block', width: 10, height: 11, boxSizing: 'border-box', background: dColors[dOrders.length - 1 - i], border: '1px solid #777', marginRight: 5 }} />
          {o}
        </div>
      ))}
    </div>
  )
}
